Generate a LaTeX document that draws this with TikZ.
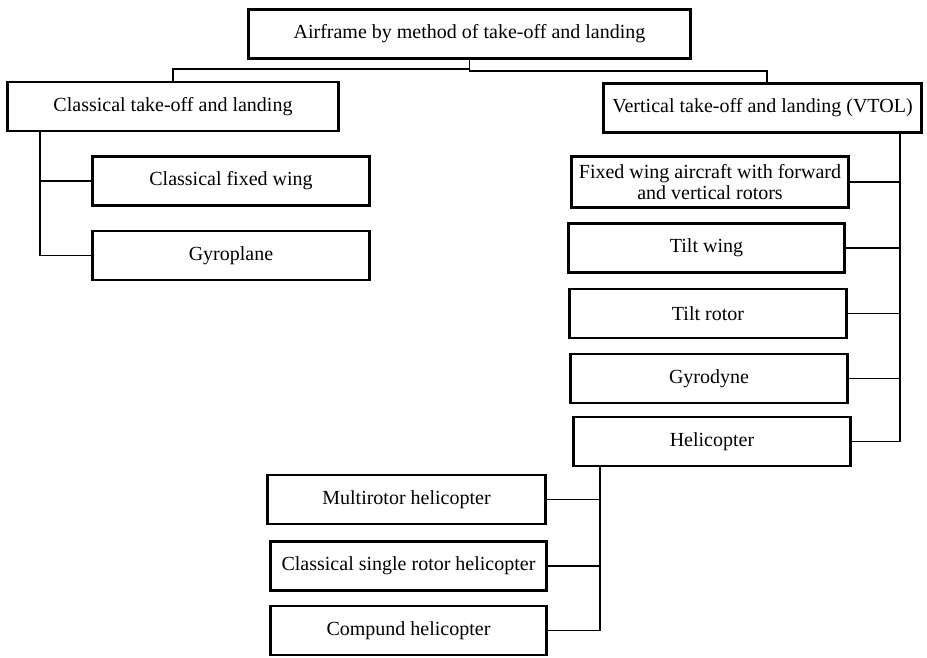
\documentclass[tikz,border=0pt]{standalone}
\usepackage{fontspec}
\setmainfont{Liberation Serif}
\begin{document}
\begin{tikzpicture}[x=1pt,y=-1pt,
  box/.style={draw=black, line width=2.8pt, fill=white, inner sep=1pt, align=center,
    font=\fontsize{20}{22}\selectfont, minimum height=49pt},
  conn/.style={draw=black, line width=1.9pt}]
\useasboundingbox (0,0) rectangle (927,658);
\node[box, minimum width=442pt] (top) at (469.5,34) {Airframe by method of take-off and landing};
\node[box, minimum width=331pt] (L) at (173,106.5) {Classical take-off and landing};
\node[box, minimum width=318pt] (R) at (762.5,108) {Vertical take-off and landing (VTOL)};
\node[box, minimum width=277pt] (cfw) at (231,181) {Classical fixed wing};
\node[box, minimum width=277pt] (gyro) at (231,255.5) {Gyroplane};
\node[box, minimum width=277pt, minimum height=51pt, inner sep=0pt, font=\fontsize{20}{21}\selectfont] (fw) at (710,182) {Fixed wing aircraft with forward\\and vertical rotors};
\node[box, minimum width=276pt] (tw) at (706.5,248) {Tilt wing};
\node[box, minimum width=277pt] (tr) at (708,313.5) {Tilt rotor};
\node[box, minimum width=277pt] (gd) at (709,378.5) {Gyrodyne};
\node[box, minimum width=277pt] (heli) at (712,441.5) {Helicopter};
\node[box, minimum width=278pt] (mr) at (406.5,499.5) {Multirotor helicopter};
\node[box, minimum width=276pt] (cs) at (408.5,566) {Classical single rotor helicopter};
\node[box, minimum width=276pt] (ch) at (408.5,630.5) {Compund helicopter};
% top connectors
\coordinate (tj) at (469.5,71);
\coordinate (tl) at (173,69);
\coordinate (tr1) at (767,71);
\draw[conn] (top.south) -- (tj) -- (tr1) -- (tr1 |- R.north);
\draw[conn] (top.south |- tl) -- (tl) -- (L.north);
% left branch
\coordinate (lv) at (40,133);
\draw[conn] (lv |- L.south) -- (lv |- gyro.west) -- (gyro.west);
\draw[conn] (lv |- cfw.west) -- (cfw.west);
% right branch
\coordinate (rv) at (900,133);
\draw[conn] (rv |- R.south) -- (rv |- heli.east) -- (heli.east);
\draw[conn] (rv |- fw.east) -- (fw.east);
\draw[conn] (rv |- tw.east) -- (tw.east);
\draw[conn] (rv |- tr.east) -- (tr.east);
\draw[conn] (rv |- gd.east) -- (gd.east);
% helicopter branch
\coordinate (hv) at (600,467);
\draw[conn] (hv |- heli.south) -- (hv |- ch.east) -- (ch.east);
\draw[conn] (hv |- mr.east) -- (mr.east);
\draw[conn] (hv |- cs.east) -- (cs.east);
\end{tikzpicture}
\end{document}
